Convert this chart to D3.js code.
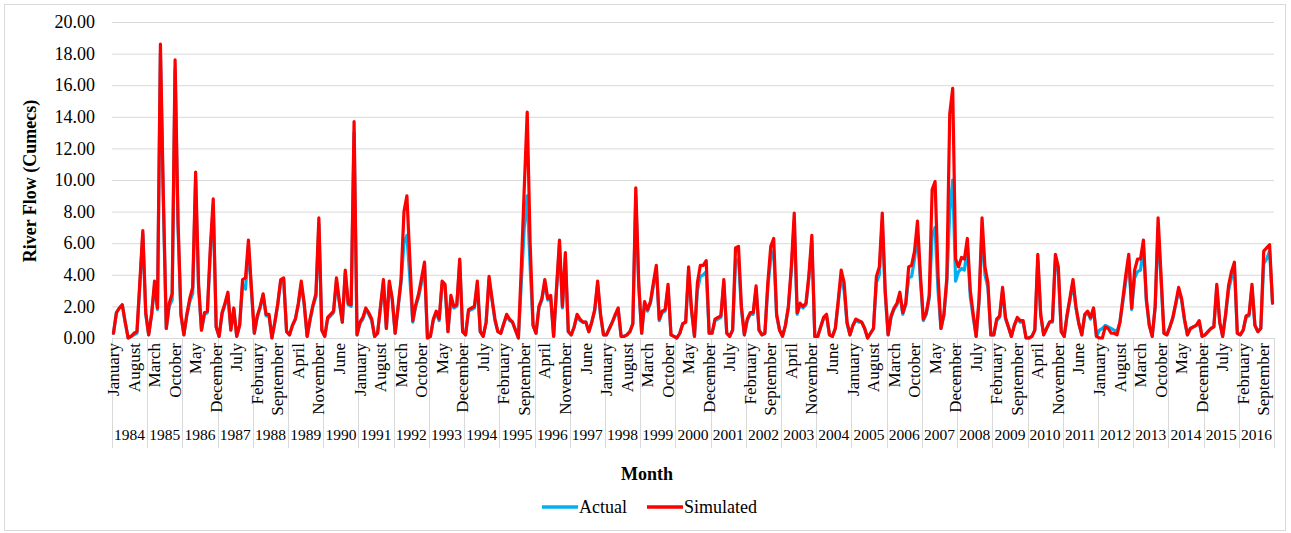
<!DOCTYPE html>
<html>
<head>
<meta charset="utf-8">
<script src="https://cdn.jsdelivr.net/npm/d3@7"></script>
<style>
  body { margin: 0; background: #fff; }
  svg text { font-family: "Liberation Serif", "Times New Roman", serif; fill: #000; }
</style>
</head>
<body>
<svg id="chart"></svg>
<script>
// monthly river flow, Jan 1984 - Dec 2016
const years = d3.range(1984, 2017);
const monthNames = ["January", "February", "March", "April", "May", "June",
  "July", "August", "September", "October", "November", "December"];
const yTicks = [0, 2, 4, 6, 8, 10, 12, 14, 16, 18, 20];

const simulated = [
  0.3, 1.6, 1.9, 2.1, 1.0, 0.0, 0.1, 0.3, 0.4, 3.6, 6.8, 1.6,     // 1984
  0.2, 1.5, 3.6, 1.9, 18.6, 9.0, 0.6, 2.2, 2.8, 17.6, 7.4, 1.5,   // 1985
  0.2, 1.5, 2.5, 3.2, 10.5, 3.4, 0.5, 1.6, 1.7, 5.7, 8.8, 0.7,    // 1986
  0.1, 1.6, 2.2, 2.9, 0.5, 1.9, 0.1, 0.8, 3.7, 3.8, 6.2, 3.2,     // 1987
  0.3, 1.4, 2.0, 2.8, 1.5, 1.5, 0.0, 1.0, 2.2, 3.7, 3.8, 0.4,     // 1988
  0.2, 0.8, 1.2, 2.2, 3.6, 2.2, 0.1, 1.2, 2.1, 2.8, 7.6, 0.5,     // 1989
  0.1, 1.3, 1.5, 1.7, 3.8, 2.3, 1.0, 4.3, 2.2, 2.1, 13.7, 0.2,    // 1990
  1.0, 1.3, 1.9, 1.6, 1.2, 0.1, 0.3, 2.0, 3.7, 0.6, 3.6, 2.5,     // 1991
  0.3, 2.0, 3.7, 8.0, 9.0, 5.0, 1.1, 2.1, 2.8, 3.8, 4.8, 0.0,     // 1992
  0.1, 1.2, 1.7, 1.2, 3.6, 3.4, 0.4, 2.7, 2.0, 2.1, 5.0, 0.4,     // 1993
  0.2, 1.8, 1.9, 2.0, 3.6, 0.4, 0.1, 1.0, 3.9, 2.5, 1.2, 0.4,     // 1994
  0.3, 0.9, 1.5, 1.2, 1.0, 0.5, 0.0, 4.5, 9.5, 14.3, 6.0, 0.8,    // 1995
  0.3, 2.0, 2.5, 3.7, 2.5, 2.7, 0.1, 3.2, 6.2, 2.0, 5.4, 0.4,     // 1996
  0.2, 0.7, 1.5, 1.2, 1.0, 1.0, 0.4, 1.0, 1.8, 3.6, 1.5, 0.2,     // 1997
  0.2, 0.6, 1.0, 1.5, 1.9, 0.1, 0.1, 0.2, 0.4, 0.9, 9.5, 3.5,     // 1998
  0.3, 2.3, 1.8, 2.3, 3.5, 4.6, 1.2, 1.7, 1.8, 3.4, 0.2, 0.1,     // 1999
  0.0, 0.3, 0.9, 1.0, 4.5, 1.8, 0.1, 3.5, 4.6, 4.6, 4.9, 0.3,     // 2000
  0.3, 1.2, 1.3, 1.4, 3.7, 0.3, 0.1, 0.5, 5.7, 5.8, 2.0, 0.2,     // 2001
  1.2, 1.6, 1.6, 3.3, 0.5, 0.2, 0.3, 3.5, 5.8, 6.3, 1.5, 0.5,     // 2002
  0.1, 0.8, 2.0, 4.5, 7.9, 1.6, 2.2, 2.0, 2.2, 4.0, 6.5, 0.1,     // 2003
  0.1, 0.7, 1.3, 1.5, 0.2, 0.1, 0.6, 2.4, 4.3, 3.5, 1.0, 0.2,     // 2004
  0.8, 1.2, 1.1, 1.0, 0.6, 0.0, 0.3, 0.6, 3.9, 4.5, 7.9, 3.0,     // 2005
  0.2, 1.4, 1.9, 2.2, 2.9, 1.6, 2.2, 4.5, 4.6, 5.5, 7.4, 4.0,     // 2006
  1.2, 1.6, 2.7, 9.4, 9.9, 4.0, 0.6, 1.5, 3.8, 14.2, 15.8, 5.0,   // 2007
  4.5, 5.1, 5.0, 6.3, 3.0, 1.5, 0.1, 2.5, 7.6, 4.5, 3.5, 0.2,     // 2008
  0.2, 1.2, 1.4, 3.2, 1.3, 0.7, 0.1, 0.8, 1.3, 1.1, 1.1, 0.0,     // 2009
  0.0, 0.1, 0.5, 5.3, 1.5, 0.2, 0.6, 1.0, 1.1, 5.3, 4.5, 0.4,     // 2010
  0.1, 1.5, 2.6, 3.7, 2.0, 0.9, 0.2, 1.5, 1.7, 1.3, 1.9, 0.1,     // 2011
  0.0, 0.0, 0.7, 0.6, 0.3, 0.3, 0.2, 1.0, 2.5, 4.0, 5.3, 1.9,     // 2012
  4.3, 5.0, 5.0, 6.2, 2.5, 0.8, 0.1, 2.0, 7.6, 4.0, 0.3, 0.2,     // 2013
  0.7, 1.3, 2.2, 3.2, 2.5, 1.2, 0.2, 0.6, 0.7, 0.8, 1.1, 0.1,     // 2014
  0.2, 0.4, 0.6, 0.7, 3.4, 1.0, 0.1, 1.5, 3.3, 4.2, 4.8, 0.3,     // 2015
  0.2, 0.5, 1.4, 1.5, 3.4, 0.8, 0.4, 0.6, 5.5, 5.7, 5.9, 2.2      // 2016
];

const actual = [
  0.3, 1.6, 1.9, 2.1, 1.0, 0.0, 0.1, 0.2, 0.3, 3.3, 6.6, 1.5,     // 1984
  0.2, 1.5, 3.3, 1.8, 18.0, 8.5, 0.6, 2.0, 2.4, 17.0, 7.0, 1.4,   // 1985
  0.2, 1.4, 2.3, 2.8, 10.0, 3.2, 0.5, 1.5, 1.6, 5.3, 8.4, 0.7,    // 1986
  0.1, 1.5, 2.1, 2.7, 0.5, 1.8, 0.1, 0.8, 3.4, 3.1, 5.9, 3.0,     // 1987
  0.3, 1.3, 1.9, 2.7, 1.4, 1.4, 0.0, 1.0, 2.1, 3.6, 3.7, 0.4,     // 1988
  0.2, 0.8, 1.2, 2.1, 3.4, 2.1, 0.1, 1.1, 2.0, 2.6, 7.2, 0.5,     // 1989
  0.1, 1.2, 1.4, 1.6, 3.6, 2.2, 1.0, 4.1, 2.1, 2.0, 13.0, 0.2,    // 1990
  0.9, 1.2, 1.8, 1.5, 1.1, 0.1, 0.3, 1.9, 3.5, 0.6, 3.4, 2.4,     // 1991
  0.3, 1.9, 3.5, 6.0, 6.5, 3.8, 1.0, 2.0, 2.6, 3.5, 4.6, 0.0,     // 1992
  0.1, 1.1, 1.6, 1.1, 3.4, 3.2, 0.4, 2.5, 1.9, 2.0, 4.8, 0.4,     // 1993
  0.2, 1.7, 1.8, 1.9, 3.4, 0.4, 0.1, 1.0, 3.7, 2.4, 1.1, 0.4,     // 1994
  0.3, 0.9, 1.4, 1.1, 1.0, 0.5, 0.0, 3.5, 7.0, 9.0, 4.5, 0.8,     // 1995
  0.3, 1.9, 2.4, 3.5, 2.4, 2.5, 0.1, 3.0, 5.9, 1.9, 5.1, 0.4,     // 1996
  0.2, 0.7, 1.4, 1.1, 1.0, 1.0, 0.4, 1.0, 1.7, 3.4, 1.4, 0.2,     // 1997
  0.2, 0.6, 1.0, 1.4, 1.8, 0.1, 0.1, 0.2, 0.4, 0.9, 9.0, 3.3,     // 1998
  0.3, 2.2, 1.7, 2.2, 3.3, 4.4, 1.1, 1.6, 1.7, 3.2, 0.2, 0.1,     // 1999
  0.0, 0.3, 0.9, 1.0, 4.2, 1.7, 0.1, 3.0, 3.9, 4.0, 4.2, 0.3,     // 2000
  0.3, 1.1, 1.2, 1.3, 3.5, 0.3, 0.1, 0.5, 4.8, 5.0, 1.8, 0.2,     // 2001
  1.1, 1.5, 1.5, 3.1, 0.5, 0.2, 0.3, 3.2, 5.0, 5.5, 1.4, 0.5,     // 2002
  0.1, 0.8, 1.9, 4.2, 7.4, 1.5, 2.1, 1.9, 2.1, 3.8, 6.1, 0.1,     // 2003
  0.1, 0.7, 1.2, 1.4, 0.2, 0.1, 0.6, 2.2, 3.9, 3.0, 0.9, 0.2,     // 2004
  0.8, 1.1, 1.0, 1.0, 0.6, 0.0, 0.3, 0.6, 3.5, 4.0, 7.4, 2.8,     // 2005
  0.2, 1.3, 1.8, 2.1, 2.7, 1.5, 2.1, 3.8, 3.9, 5.0, 6.6, 3.6,     // 2006
  1.1, 1.5, 2.5, 6.5, 7.0, 3.0, 0.6, 1.4, 3.5, 8.0, 10.0, 3.6,    // 2007
  4.2, 4.4, 4.3, 5.8, 2.6, 1.3, 0.1, 2.3, 6.8, 4.0, 3.2, 0.2,     // 2008
  0.2, 1.1, 1.3, 3.0, 1.2, 0.7, 0.1, 0.8, 1.2, 1.0, 1.0, 0.0,     // 2009
  0.0, 0.1, 0.5, 4.9, 1.4, 0.2, 0.6, 1.0, 1.0, 4.9, 4.2, 0.4,     // 2010
  0.1, 1.4, 2.4, 3.5, 1.9, 0.9, 0.2, 1.4, 1.6, 1.2, 1.8, 0.1,     // 2011
  0.5, 0.6, 0.8, 0.7, 0.6, 0.5, 0.4, 1.0, 2.3, 3.6, 5.0, 1.8,     // 2012
  3.8, 4.2, 4.3, 5.8, 2.3, 0.8, 0.1, 1.9, 7.0, 3.6, 0.3, 0.2,     // 2013
  0.7, 1.2, 2.1, 3.0, 2.4, 1.1, 0.2, 0.6, 0.7, 0.8, 1.0, 0.1,     // 2014
  0.2, 0.4, 0.6, 0.7, 3.2, 1.0, 0.1, 1.4, 3.0, 3.8, 4.5, 0.3,     // 2015
  0.2, 0.5, 1.3, 1.4, 3.2, 0.8, 0.4, 0.6, 4.7, 5.0, 5.5, 2.2      // 2016
];

const width = 1291;
const height = 533;
const plot = { left: 112, right: 1274, top: 22, bottom: 338 };
const gridColor = "#d9d9d9";
const fontFamily = '"Liberation Serif", "Times New Roman", serif';

const svg = d3.select("#chart").attr("width", width).attr("height", height);

// outer chart border
svg.append("rect")
  .attr("x", 4.5).attr("y", 4.5)
  .attr("width", 1281).attr("height", 526)
  .attr("fill", "#fff")
  .attr("stroke", gridColor);

const n = years.length * 12;
const x = d3.scaleBand()
  .domain(d3.range(n))
  .range([plot.left, plot.right])
  .paddingInner(0).paddingOuter(0);
const cx = i => x(i) + x.bandwidth() / 2;

const y = d3.scaleLinear().domain([0, 20]).range([plot.bottom, plot.top]);

// gridlines + y labels
const yAxis = svg.append("g")
  .attr("transform", `translate(${plot.left},0)`)
  .call(d3.axisLeft(y).tickValues(yTicks)
    .tickSize(-(plot.right - plot.left))
    .tickPadding(17)
    .tickFormat(d3.format(".2f")));
yAxis.select(".domain").remove();
yAxis.selectAll(".tick line").attr("stroke", gridColor).attr("stroke-width", 1);
yAxis.selectAll(".tick text")
  .style("font-family", fontFamily)
  .style("font-size", "18px")
  .attr("fill", "#000");

// x axis baseline
svg.append("line")
  .attr("x1", plot.left).attr("x2", plot.right)
  .attr("y1", plot.bottom + 0.5).attr("y2", plot.bottom + 0.5)
  .attr("stroke", gridColor);

// year separators
const yearEdge = d3.range(years.length + 1).map(k => k < years.length ? x(k * 12) : plot.right);
svg.append("g").selectAll("line")
  .data(yearEdge)
  .join("line")
  .attr("x1", d => Math.round(d) + 0.5).attr("x2", d => Math.round(d) + 0.5)
  .attr("y1", plot.bottom).attr("y2", 448)
  .attr("stroke", gridColor);

// month labels (every 7th month)
const monthIdx = d3.range(0, n, 7);
svg.append("g").selectAll("text")
  .data(monthIdx)
  .join("text")
  .attr("transform", i => `translate(${cx(i)},343) rotate(-90)`)
  .attr("text-anchor", "end")
  .attr("dy", "0.33em")
  .style("font-size", "17px")
  .text(i => monthNames[i % 12]);

// year labels
svg.append("g").selectAll("text")
  .data(years)
  .join("text")
  .attr("x", (d, k) => (yearEdge[k] + yearEdge[k + 1]) / 2)
  .attr("y", 440)
  .attr("text-anchor", "middle")
  .style("font-size", "15.5px")
  .text(d => d);

// lines
const line = d3.line()
  .x((d, i) => cx(i))
  .y(d => y(d));

const series = [
  { name: "Actual", values: actual, color: "#00b0f0" },
  { name: "Simulated", values: simulated, color: "#ff0000" }
];

svg.append("g").selectAll("path")
  .data(series)
  .join("path")
  .attr("d", d => line(d.values))
  .attr("fill", "none")
  .attr("stroke", d => d.color)
  .attr("stroke-width", 3.2)
  .attr("stroke-linejoin", "round")
  .attr("stroke-linecap", "round");

// axis titles
svg.append("text")
  .attr("transform", "translate(36,181) rotate(-90)")
  .attr("text-anchor", "middle")
  .style("font-size", "18px")
  .style("font-weight", "bold")
  .text("River Flow (Cumecs)");

svg.append("text")
  .attr("x", 647).attr("y", 480)
  .attr("text-anchor", "middle")
  .style("font-size", "18px")
  .style("font-weight", "bold")
  .text("Month");

// legend
const legend = svg.append("g").attr("transform", "translate(542,507)");
const legendX = [0, 105];
const item = legend.selectAll("g")
  .data(series)
  .join("g")
  .attr("transform", (d, k) => `translate(${legendX[k]},0)`);
item.append("line")
  .attr("x1", 0).attr("x2", 36)
  .attr("stroke", d => d.color)
  .attr("stroke-width", 3.5);
item.append("text")
  .attr("x", 37).attr("y", 6)
  .style("font-size", "18px")
  .text(d => d.name);
</script>
</body>
</html>
